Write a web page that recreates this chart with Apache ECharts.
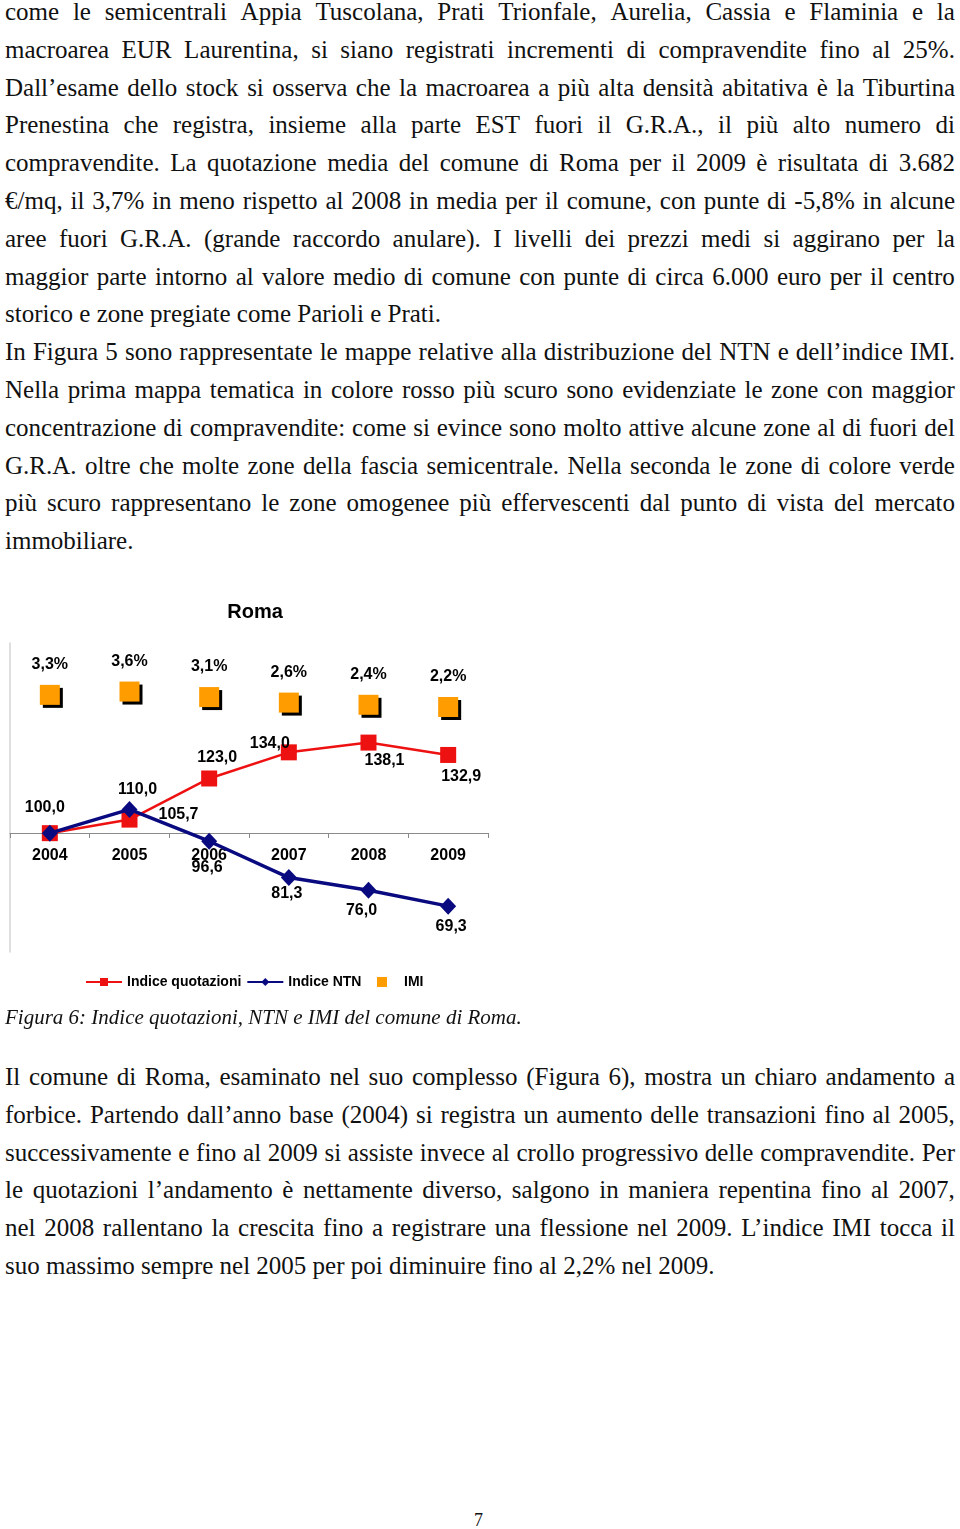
<!DOCTYPE html>
<html>
<head>
<meta charset="utf-8">
<script src="https://cdn.jsdelivr.net/npm/echarts@6/dist/echarts.min.js"></script>
<style>
  html, body { margin:0; padding:0; background:#fff; }
  body { width:960px; height:1529px; position:relative; overflow:hidden; font-family:"Liberation Serif","Times New Roman",serif; color:#111; }
  .block { position:absolute; left:5px; width:950px; font-size:25px; line-height:37.8px; }
  .line { display:flex; justify-content:space-between; white-space:nowrap; height:37.8px; }
  .line.last { display:block; }
  #chart { position:absolute; left:0; top:590px; width:510px; height:420px; }
  #caption { position:absolute; left:5px; top:1003px; font-size:21px; font-style:italic; line-height:28px; white-space:nowrap; }
  #pageno { position:absolute; left:474px; top:1508px; font-size:18px; line-height:24px; }
</style>
</head>
<body>
<div class="block" id="p1" style="top:-7px;"></div>
<div id="chart"></div>
<div id="caption">Figura 6: Indice quotazioni, NTN e IMI del comune di Roma.</div>
<div class="block" id="p3" style="top:1058px;"></div>
<div id="pageno">7</div>
<script>
// ---- text lines ----
const textTop = [
  ["come le semicentrali Appia Tuscolana, Prati Trionfale, Aurelia, Cassia e Flaminia e la", false],
  ["macroarea EUR Laurentina, si siano registrati incrementi di compravendite fino al 25%.", false],
  ["Dall’esame dello stock si osserva che la macroarea a più alta densità abitativa è la Tiburtina", false],
  ["Prenestina che registra, insieme alla parte EST fuori il G.R.A., il più alto numero di", false],
  ["compravendite. La quotazione media del comune di Roma per il 2009 è risultata di 3.682", false],
  ["€/mq, il 3,7% in meno rispetto al 2008 in media per il comune, con punte di -5,8% in alcune", false],
  ["aree fuori G.R.A. (grande raccordo anulare). I livelli dei prezzi medi si aggirano per la", false],
  ["maggior parte intorno al valore medio di comune con punte di circa 6.000 euro per il centro", false],
  ["storico e zone pregiate come Parioli e Prati.", true],
  ["In Figura 5 sono rappresentate le mappe relative alla distribuzione del NTN e dell’indice IMI.", false],
  ["Nella prima mappa tematica in colore rosso più scuro sono evidenziate le zone con maggior", false],
  ["concentrazione di compravendite: come si evince sono molto attive alcune zone al di fuori del", false],
  ["G.R.A. oltre che molte zone della fascia semicentrale. Nella seconda le zone di colore verde", false],
  ["più scuro rappresentano le zone omogenee più effervescenti dal punto di vista del mercato", false],
  ["immobiliare.", true]
];
const textBottom = [
  ["Il comune di Roma, esaminato nel suo complesso (Figura 6), mostra un chiaro andamento a", false],
  ["forbice. Partendo dall’anno base (2004) si registra un aumento delle transazioni fino al 2005,", false],
  ["successivamente e fino al 2009 si assiste invece al crollo progressivo delle compravendite. Per", false],
  ["le quotazioni l’andamento è nettamente diverso, salgono in maniera repentina fino al 2007,", false],
  ["nel 2008 rallentano la crescita fino a registrare una flessione nel 2009. L’indice IMI tocca il", false],
  ["suo massimo sempre nel 2005 per poi diminuire fino al 2,2% nel 2009.", true]
];
function fill(id, lines) {
  const el = document.getElementById(id);
  lines.forEach(([t, last]) => {
    const d = document.createElement('div');
    d.className = 'line' + (last ? ' last' : '');
    if (last) { d.textContent = t; }
    else { t.split(' ').forEach(w => { const s = document.createElement('span'); s.textContent = w; d.appendChild(s); }); }
    el.appendChild(d);
  });
}
fill('p1', textTop);
fill('p3', textBottom);

// ---- chart data ----
const chartTitle = "Roma";
const years = ["2004", "2005", "2006", "2007", "2008", "2009"];
const indiceQuotazioni = [100.0, 105.7, 123.0, 134.0, 138.1, 132.9];
const indiceNTN = [100.0, 110.0, 96.6, 81.3, 76.0, 69.3];
const imi = [3.3, 3.6, 3.1, 2.6, 2.4, 2.2];
const seriesNames = ["Indice quotazioni", "Indice NTN", "IMI"];

// label placement (style)
const quotLabelOffset = [[-5,-26],[49,-5],[8,-21],[-19,-9],[16,18],[13,22]];
const ntnLabelOffset = [null,[8,-20],[-2,26],[-2,16],[-7,20],[3,20]];

const fmt1 = v => v.toFixed(1).replace('.', ',');
const FONT = '"Liberation Sans", Arial, sans-serif';
const lblStyle = { color:'#000', fontFamily:FONT, fontWeight:'bold', fontSize:16 };
const legendText = { fontFamily:FONT, fontWeight:'bold', fontSize:14, color:'#000' };

const chart = echarts.init(document.getElementById('chart'), null, { renderer:'canvas' });
chart.setOption({
  animation:false,
  title:{ text:chartTitle, left:'center', top:7, textStyle:{ fontFamily:FONT, fontWeight:'bold', fontSize:20, color:'#000' } },
  legend:[
    {
      top:385, left:85, padding:0, itemWidth:36, itemHeight:10, itemGap:5,
      textStyle:legendText,
      data:[ seriesNames[0], seriesNames[1] ]
    },
    {
      top:385, left:377, padding:0, itemWidth:10, itemHeight:10, itemGap:5, icon:'rect',
      textStyle:{ ...legendText, padding:[0,0,0,12] },
      itemStyle:{ shadowColor:'transparent', shadowOffsetX:0, shadowOffsetY:0 },
      data:[ seriesNames[2] ]
    }
  ],
  grid:{ left:10, top:53, width:478, height:309, containLabel:false },
  xAxis:{
    type:'category', data:years, boundaryGap:true, position:'bottom', offset:-119,
    axisLine:{ show:true, onZero:false, lineStyle:{ color:'#8a8a8a', width:1 } },
    axisTick:{ show:true, length:5, lineStyle:{ color:'#8a8a8a' } },
    axisLabel:{ ...lblStyle, margin:15 },
    splitLine:{ show:false }
  },
  yAxis:[
    { type:'value', min:50, max:180, axisLine:{ show:true, lineStyle:{ color:'#d4d4d4', width:1.5 } }, axisTick:{show:false}, axisLabel:{show:false}, splitLine:{show:false} },
    { type:'value', min:-20, max:8, show:false, splitLine:{show:false} }
  ],
  series:[
    {
      name:seriesNames[0], type:'line', yAxisIndex:0, z:3,
      symbol:'rect', symbolSize:16,
      lineStyle:{ color:'#ee1111', width:2.5 },
      itemStyle:{ color:'#ee1111' },
      data: indiceQuotazioni.map((v,i)=>({ value:v, label:{ show:true, position:'inside', offset:quotLabelOffset[i] } })),
      label:{ ...lblStyle, formatter:p=>fmt1(p.value) }
    },
    {
      name:seriesNames[1], type:'line', yAxisIndex:0, z:4,
      symbol:'diamond', symbolSize:[16,17],
      lineStyle:{ color:'#0a0a80', width:3.5 },
      itemStyle:{ color:'#0a0a80' },
      data: indiceNTN.map((v,i)=>({ value:v, label:{ show: ntnLabelOffset[i]!==null, position:'inside', offset:ntnLabelOffset[i]||[0,0] } })),
      label:{ ...lblStyle, formatter:p=>fmt1(p.value) }
    },
    {
      name:seriesNames[2], type:'scatter', yAxisIndex:1, z:3,
      symbol:'rect', symbolSize:20,
      itemStyle:{ color:'#ff9c00', shadowColor:'#000', shadowOffsetX:3, shadowOffsetY:3, shadowBlur:0, opacity:1 },
      data: imi,
      label:{ show:true, position:'inside', offset:[0,-30], ...lblStyle, formatter:p=>fmt1(p.value)+'%' }
    }
  ]
});
</script>
</body>
</html>
